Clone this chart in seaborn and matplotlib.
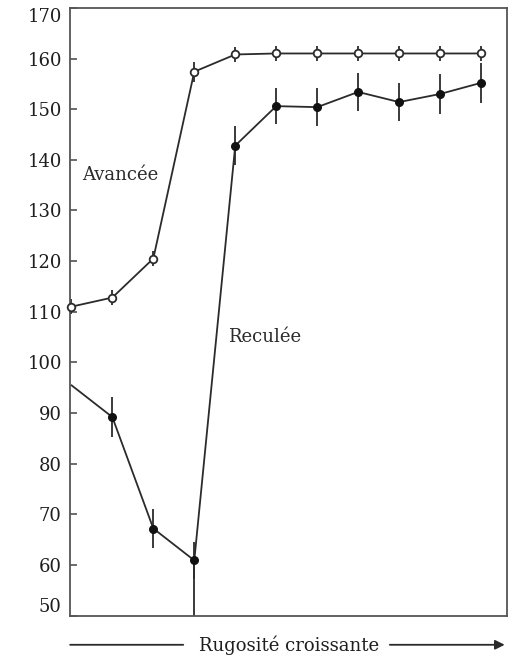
import numpy as np
import pandas as pd
import matplotlib
matplotlib.use("Agg")
import matplotlib.pyplot as plt
import seaborn as sns

# Rugosity steps (0 = smoothest)
steps = list(range(11))

# Avancée (open circles)
avancee = [111, 112.8, 120.5, 157.4, 160.8, 161, 161, 161, 161, 161, 161]
avancee_err = [1.5, 1.5, 1.5, 2, 1.5, 1.5, 1.5, 1.5, 1.5, 1.5, 1.5]

# Reculée (filled circles); first value has no marker
reculee = [95.5, 89.2, 67.2, 60.9, 142.8, 150.6, 150.4, 153.4, 151.4, 153.0, 155.2]
reculee_err = [0, 4, 3.8, 3.6, 3.8, 3.6, 3.8, 3.8, 3.7, 4, 3.9]

y_ticks = [50, 60, 70, 80, 90, 100, 110, 120, 130, 140, 150, 160, 170]

sns.set_style("white")
plt.rcParams["font.family"] = ["DejaVu Serif"]

ink = "#2b2b2b"

df_av = pd.DataFrame({"step": steps, "value": avancee})
df_re = pd.DataFrame({"step": steps, "value": reculee})

fig = plt.figure(figsize=(5.12, 6.57), dpi=100)
ax = fig.add_axes([0.137, 0.063, 0.853, 0.925])

# lines
sns.lineplot(data=df_av, x="step", y="value", color=ink, lw=1.3, ax=ax)
sns.lineplot(data=df_re, x="step", y="value", color=ink, lw=1.3, ax=ax)

# error bars
ax.errorbar(steps, avancee, yerr=avancee_err, fmt="none", ecolor=ink, elinewidth=1.3, capsize=0)
ax.errorbar(steps[1:], reculee[1:], yerr=reculee_err[1:], fmt="none", ecolor=ink,
            elinewidth=1.3, capsize=0)

# drop line from the lowest Reculée point to the axis
ax.vlines(steps[3], y_ticks[0], reculee[3], color=ink, lw=1.3)

# markers
sns.scatterplot(data=df_av, x="step", y="value", marker="o", s=30, facecolor="white",
                edgecolor=ink, linewidth=1.3, zorder=5, ax=ax, clip_on=False)
sns.scatterplot(data=df_re.iloc[1:], x="step", y="value", marker="o", s=30, color="#111111",
                edgecolor="#111111", linewidth=1, zorder=5, ax=ax)

ax.set_xlim(-0.03, 10.63)
ax.set_ylim(50, 170)
ax.set_yticks(y_ticks)
ax.set_yticklabels([str(t) for t in y_ticks], fontsize=13, color="#1e1e1e")
ax.get_yticklabels()[-1].set_va("top")
ax.get_yticklabels()[0].set_va("bottom")
ax.set_xticks([])
ax.set_xlabel("")
ax.set_ylabel("")
ax.tick_params(axis="y", direction="in", length=5, width=1.1, color="#444444", pad=6, left=True)

for sp in ax.spines.values():
    sp.set_color("#555555")
    sp.set_linewidth(1.3)

ax.text(0.25, 137, "Avancée", fontsize=13, color=ink, va="center", ha="left")
ax.text(3.82, 105, "Reculée", fontsize=13, color=ink, va="center", ha="left")

# x-axis caption with arrow
ax.text(0.502, -0.048, "Rugosité croissante", transform=ax.transAxes, fontsize=13,
        color="#1e1e1e", ha="center", va="center")
ax.annotate("", xy=(0.0, -0.048), xytext=(0.259, -0.048), xycoords="axes fraction",
            arrowprops=dict(arrowstyle="-", color=ink, lw=1.3, shrinkA=0, shrinkB=0))
ax.annotate("", xy=(0.995, -0.048), xytext=(0.732, -0.048), xycoords="axes fraction",
            arrowprops=dict(arrowstyle="-|>", color=ink, lw=1.3, mutation_scale=14,
                            shrinkA=0, shrinkB=0))

fig.savefig("out.png", dpi=100)
